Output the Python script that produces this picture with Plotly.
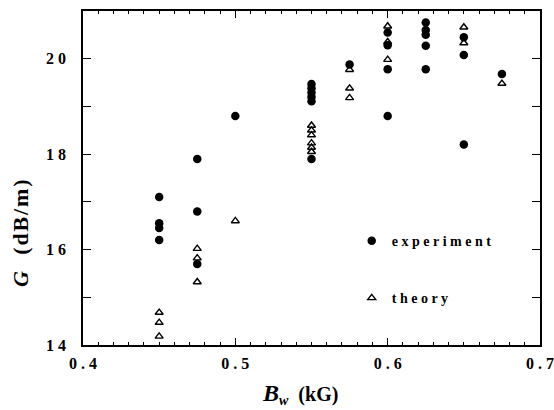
import plotly.graph_objects as go

# Measured gain G (dB/m) against wiggler field B_w (kG)
exp_bw = [0.45, 0.45, 0.45, 0.45,
          0.475, 0.475, 0.475,
          0.5,
          0.55, 0.55, 0.55, 0.55, 0.55, 0.55,
          0.575,
          0.6, 0.6, 0.6, 0.6,
          0.625, 0.625, 0.625, 0.625, 0.625,
          0.65, 0.65, 0.65,
          0.675]
exp_gain = [17.1, 16.55, 16.45, 16.2,
            17.9, 16.8, 15.7,
            18.8,
            19.47, 19.38, 19.29, 19.2, 19.11, 17.9,
            19.88,
            20.55, 20.28, 19.78, 18.8,
            20.76, 20.6, 20.5, 20.27, 19.78,
            20.45, 20.08, 18.2,
            19.68]

# Calculated gain
thy_bw = [0.45, 0.45, 0.45,
          0.475, 0.475, 0.475,
          0.5,
          0.55, 0.55, 0.55, 0.55, 0.55, 0.55,
          0.575, 0.575, 0.575,
          0.6, 0.6, 0.6,
          0.65, 0.65,
          0.675]
thy_gain = [14.68, 14.47, 14.18,
            16.02, 15.82, 15.32,
            16.6,
            18.6, 18.5, 18.4, 18.23, 18.14, 18.05,
            19.77, 19.38, 19.18,
            20.68, 20.35, 19.98,
            20.66, 20.33,
            19.48]

NB = "\u00a0"
x_ticks = [0.4, 0.5, 0.6, 0.7]
x_labels = [NB.join(list(f"{v:.1f}")) for v in x_ticks]
y_ticks = [14, 16, 18, 20]
y_labels = [NB.join(list(str(v))) for v in y_ticks]

serif = "Liberation Serif"

fig = go.Figure()
fig.add_trace(go.Scatter(
    x=exp_bw, y=exp_gain, mode="markers", name=NB.join("experiment"),
    legendgroup="exp",
    marker=dict(symbol="circle", size=8.5, color="black"),
))
fig.add_trace(go.Scatter(
    x=thy_bw, y=thy_gain, mode="markers", name=NB.join("theory"),
    legendgroup="thy",
    marker=dict(symbol="triangle-up-open", size=7, color="black",
                line=dict(width=1.4, color="black")),
))

axis_common = dict(
    showline=True, linecolor="black", linewidth=1.5, mirror="ticks",
    ticks="inside", tickcolor="black", tickwidth=1.2,
    showgrid=False, zeroline=False, automargin=False,
    tickfont=dict(family=serif, size=16, color="black", weight="bold"),
)

fig.update_xaxes(
    range=[0.4, 0.7], tickmode="array", tickvals=x_ticks, ticktext=x_labels,
    ticklen=7, ticklabelstandoff=3,
    minor=dict(tick0=0.4, dtick=0.01, ticks="inside", ticklen=3.5,
               tickcolor="black", tickwidth=1),
    **axis_common,
)
fig.update_yaxes(
    range=[14, 21], tickmode="array", tickvals=y_ticks, ticktext=y_labels,
    ticklen=8, ticklabelstandoff=12,
    minor=dict(tick0=14, dtick=1, ticks="inside", ticklen=8,
               tickcolor="black", tickwidth=1.2),
    **axis_common,
)

HS = "\u200a"
fig.add_annotation(
    text=("<span style='font-size:24px'><b><i>B</i></b></span>"
          "<sub><b><i>w</i></b></sub>" + NB + NB + "<b>(kG)</b>"),
    xref="paper", yref="paper", x=0.475, y=-0.148,
    showarrow=False, xanchor="center", yanchor="middle",
    font=dict(family=serif, size=20, color="black"),
)
fig.add_annotation(
    text="<b><i>G</i></b>" + NB * 3 + "<b>" + HS.join("(dB/m)") + "</b>",
    xref="paper", yref="paper", x=-0.138, y=0.335, textangle=-90,
    showarrow=False, xanchor="center", yanchor="middle",
    font=dict(family=serif, size=22, color="black"),
)

fig.update_layout(
    width=554, height=410,
    margin=dict(l=83, r=14, t=11, b=65),
    paper_bgcolor="white", plot_bgcolor="white",
    showlegend=True,
    legend=dict(
        x=0.588, y=0.359, xanchor="left", yanchor="top",
        bgcolor="rgba(0,0,0,0)", borderwidth=0,
        tracegroupgap=36,
        font=dict(family=serif, size=14, color="black", weight="bold"),
    ),
)

fig.write_html("out.html")
